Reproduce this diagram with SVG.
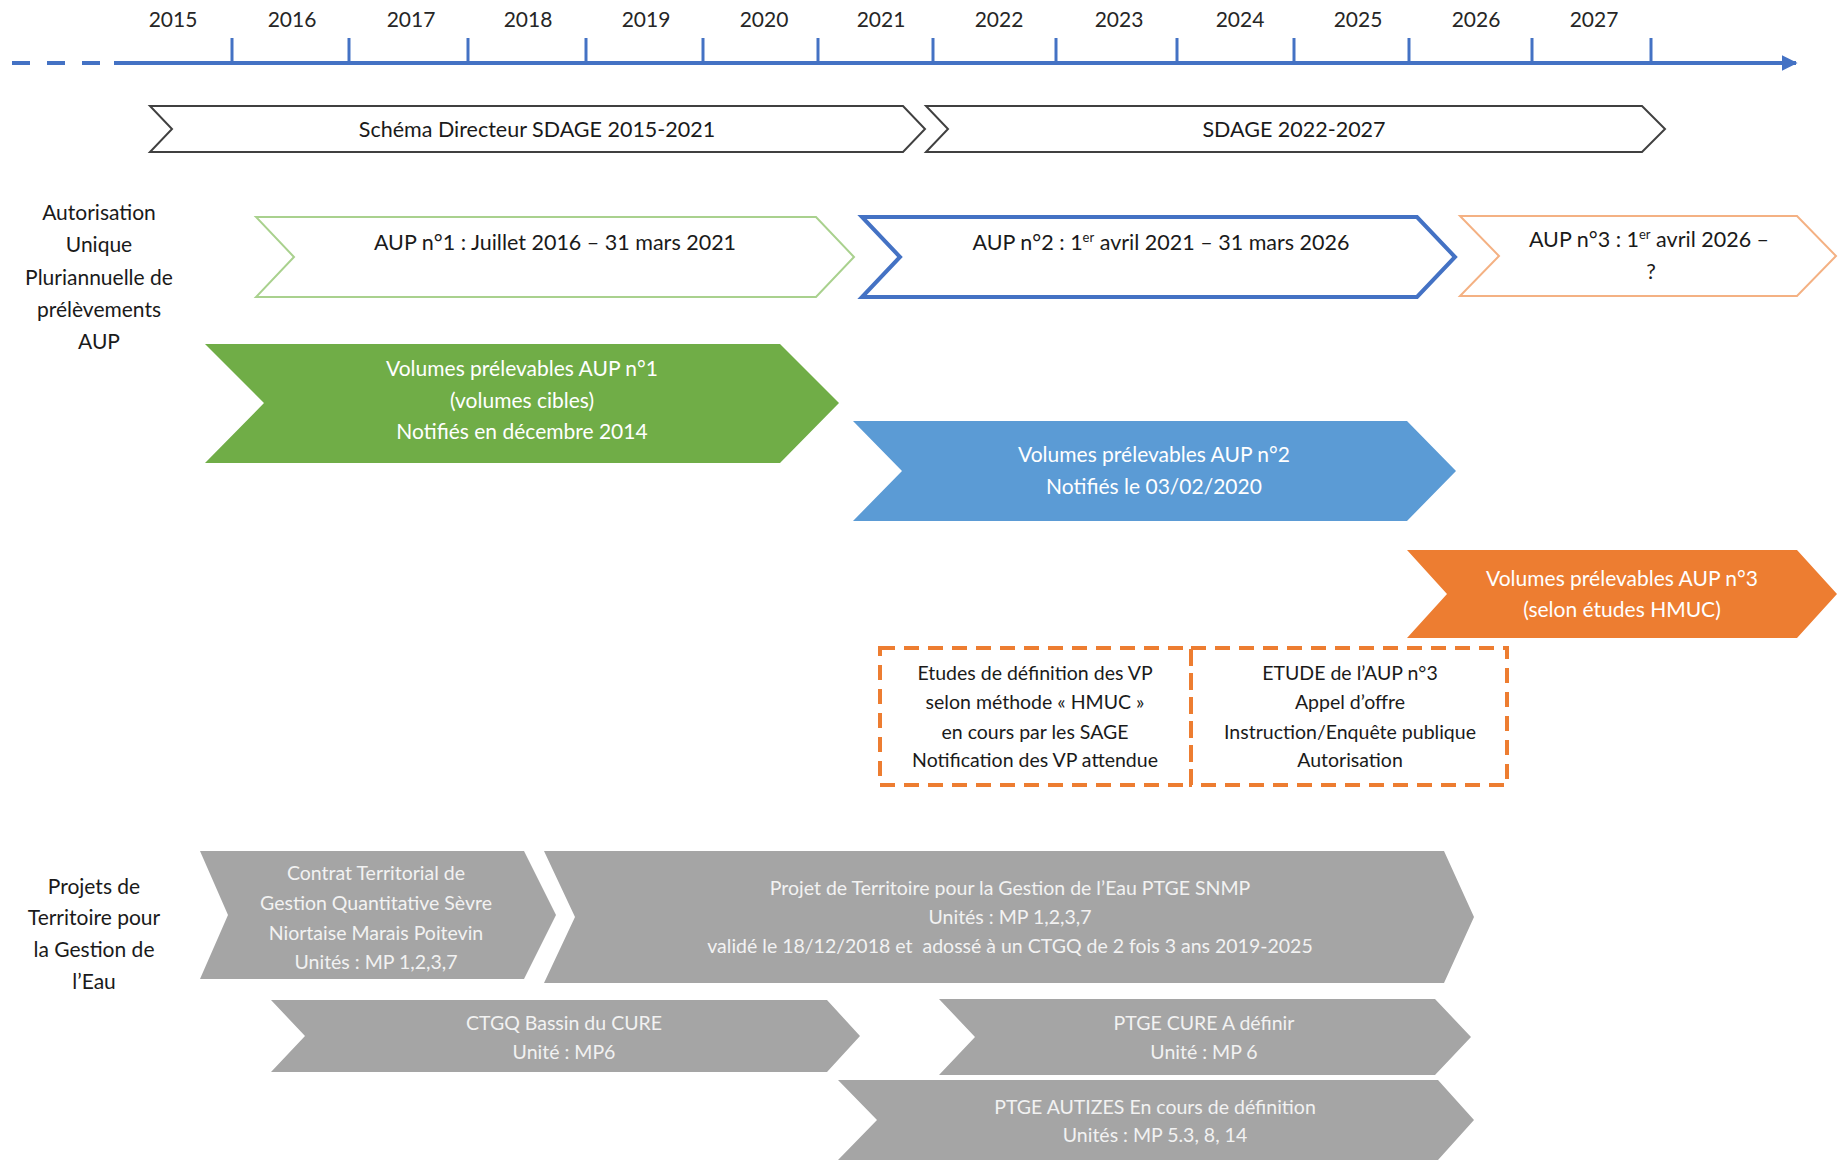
<svg xmlns="http://www.w3.org/2000/svg" width="1841" height="1160" viewBox="0 0 1841 1160">
<defs>
<marker id="arr" viewBox="0 0 10 10" refX="9" refY="5" markerWidth="4" markerHeight="4" orient="auto" markerUnits="strokeWidth"><path d="M0,0 L10,5 L0,10 z" fill="#4472C4"/></marker>
<style>
text{font-family:Lato,"Open Sans","Liberation Sans",sans-serif;text-anchor:middle;}
.yr{font-size:21px;fill:#262626;}
.lbl{font-size:21px;fill:#1a1a1a;}
.blk{font-size:21.5px;fill:#1a1a1a;}
.wht{font-size:21px;fill:#ffffff;}
.gtx{font-size:19.5px;fill:#f2f2f2;}
.dtx{font-size:19.5px;fill:#1a1a1a;}
.tick{stroke:#4472C4;stroke-width:3;}
.sd{fill:#ffffff;stroke:#404040;stroke-width:2;}
.gray{fill:#A5A5A5;}
</style>
</defs>
<rect width="1841" height="1160" fill="#ffffff"/>
<g id="axis">
<line x1="12" y1="63" x2="100" y2="63" stroke="#4472C4" stroke-width="4" stroke-dasharray="18 17"/>
<line x1="114" y1="63" x2="1796" y2="63" stroke="#4472C4" stroke-width="4" marker-end="url(#arr)"/>
<g class="tick">
<line x1="232" y1="38" x2="232" y2="63"/><line x1="349" y1="38" x2="349" y2="63"/><line x1="468" y1="38" x2="468" y2="63"/><line x1="586" y1="38" x2="586" y2="63"/><line x1="703" y1="38" x2="703" y2="63"/><line x1="818" y1="38" x2="818" y2="63"/><line x1="933" y1="38" x2="933" y2="63"/><line x1="1056" y1="38" x2="1056" y2="63"/><line x1="1177" y1="38" x2="1177" y2="63"/><line x1="1294" y1="38" x2="1294" y2="63"/><line x1="1409" y1="38" x2="1409" y2="63"/><line x1="1532" y1="38" x2="1532" y2="63"/><line x1="1651" y1="38" x2="1651" y2="63"/>
</g>
<g class="yr">
<text x="173" y="27">2015</text><text x="292" y="27">2016</text><text x="411" y="27">2017</text><text x="528" y="27">2018</text><text x="646" y="27">2019</text><text x="764" y="27">2020</text><text x="881" y="27">2021</text><text x="999" y="27">2022</text><text x="1119" y="27">2023</text><text x="1240" y="27">2024</text><text x="1358" y="27">2025</text><text x="1476" y="27">2026</text><text x="1594" y="27">2027</text>
</g>
</g>
<g id="sdage1"><polygon class="sd" points="150,106 903,106 925,129 903,152 150,152 172,129"/><text class="blk" x="537" y="137">Schéma Directeur SDAGE 2015-2021</text></g>
<g id="sdage2"><polygon class="sd" points="926,106 1642,106 1665,129 1642,152 926,152 948,129"/><text class="blk" x="1294" y="137">SDAGE 2022-2027</text></g>
<g id="label-aup"><text class="lbl"><tspan x="99" y="220">Autorisation</tspan><tspan x="99" y="252">Unique</tspan><tspan x="99" y="285">Pluriannuelle de</tspan><tspan x="99" y="317">prélèvements</tspan><tspan x="99" y="349">AUP</tspan></text></g>
<g id="aup1"><polygon points="256,217 816,217 854,257 816,297 256,297 294,257" fill="#ffffff" stroke="#A9D18E" stroke-width="2"/><text class="blk" x="555" y="250">AUP n°1 : Juillet 2016 – 31 mars 2021</text></g>
<g id="aup2"><polygon points="862,217 1417,217 1455,257 1417,297 862,297 900,257" fill="#ffffff" stroke="#4472C4" stroke-width="4"/><text class="blk" x="1161" y="250">AUP n°2 : 1<tspan baseline-shift="super" font-size="13">er</tspan> avril 2021 – 31 mars 2026</text></g>
<g id="aup3"><polygon points="1460,216 1797,216 1836,256 1797,296 1460,296 1499,256" fill="#ffffff" stroke="#F4B183" stroke-width="2"/><text class="blk" x="1649" y="247">AUP n°3 : 1<tspan baseline-shift="super" font-size="13">er</tspan> avril 2026 –</text><text class="blk" x="1651" y="279">?</text></g>
<g id="vp1"><polygon points="205,344 780,344 839,403 780,463 205,463 264,403" fill="#70AD47"/><text class="wht"><tspan x="522" y="376">Volumes prélevables AUP n°1</tspan><tspan x="522" y="408">(volumes cibles)</tspan><tspan x="522" y="439">Notifiés en décembre 2014</tspan></text></g>
<g id="vp2"><polygon points="853,421 1407,421 1456,471 1407,521 853,521 902,471" fill="#5B9BD5"/><text class="wht"><tspan x="1154" y="462">Volumes prélevables AUP n°2</tspan><tspan x="1154" y="494">Notifiés le 03/02/2020</tspan></text></g>
<g id="vp3"><polygon points="1407,550 1797,550 1837,594 1797,638 1407,638 1447,594" fill="#ED7D31"/><text class="wht"><tspan x="1622" y="586">Volumes prélevables AUP n°3</tspan><tspan x="1622" y="617">(selon études HMUC)</tspan></text></g>
<g id="etudes-vp"><rect x="880" y="648" width="311" height="137" fill="none" stroke="#ED7D31" stroke-width="4" stroke-dasharray="15 9"/><text class="dtx"><tspan x="1035" y="680">Etudes de définition des VP</tspan><tspan x="1035" y="709">selon méthode « HMUC »</tspan><tspan x="1035" y="739">en cours par les SAGE</tspan><tspan x="1035" y="767">Notification des VP attendue</tspan></text></g>
<g id="etude-aup3"><rect x="1191" y="648" width="316" height="137" fill="none" stroke="#ED7D31" stroke-width="4" stroke-dasharray="15 9"/><text class="dtx"><tspan x="1350" y="680">ETUDE de l’AUP n°3</tspan><tspan x="1350" y="709">Appel d’offre</tspan><tspan x="1350" y="739">Instruction/Enquête publique</tspan><tspan x="1350" y="767">Autorisation</tspan></text></g>
<g id="label-ptge"><text class="lbl"><tspan x="94" y="894">Projets de</tspan><tspan x="94" y="925">Territoire pour</tspan><tspan x="94" y="957">la Gestion de</tspan><tspan x="94" y="989">l’Eau</tspan></text></g>
<g id="ctgq-snmp"><polygon class="gray" points="200,851 524,851 556,915 524,979 200,979 228,915"/><text class="gtx"><tspan x="376" y="880">Contrat Territorial de</tspan><tspan x="376" y="910">Gestion Quantitative Sèvre</tspan><tspan x="376" y="940">Niortaise Marais Poitevin</tspan><tspan x="376" y="969">Unités : MP 1,2,3,7</tspan></text></g>
<g id="ptge-snmp"><polygon class="gray" points="544,851 1444,851 1474,917 1444,983 544,983 575,917"/><text class="gtx" xml:space="preserve"><tspan x="1010" y="895">Projet de Territoire pour la Gestion de l’Eau PTGE SNMP</tspan><tspan x="1010" y="924">Unités : MP 1,2,3,7</tspan><tspan x="1010" y="953">validé le 18/12/2018 et  adossé à un CTGQ de 2 fois 3 ans 2019-2025</tspan></text></g>
<g id="ctgq-cure"><polygon class="gray" points="271,1000 827,1000 860,1036 827,1072 271,1072 305,1036"/><text class="gtx"><tspan x="564" y="1030">CTGQ Bassin du CURE</tspan><tspan x="564" y="1059">Unité : MP6</tspan></text></g>
<g id="ptge-cure"><polygon class="gray" points="939,999 1435,999 1471,1037 1435,1075 939,1075 975,1037"/><text class="gtx"><tspan x="1204" y="1030">PTGE CURE A définir</tspan><tspan x="1204" y="1059">Unité : MP 6</tspan></text></g>
<g id="ptge-autizes"><polygon class="gray" points="838,1080 1438,1080 1474,1120 1438,1160 838,1160 877,1120"/><text class="gtx"><tspan x="1155" y="1114">PTGE AUTIZES En cours de définition</tspan><tspan x="1155" y="1142">Unités : MP 5.3, 8, 14</tspan></text></g>
</svg>
